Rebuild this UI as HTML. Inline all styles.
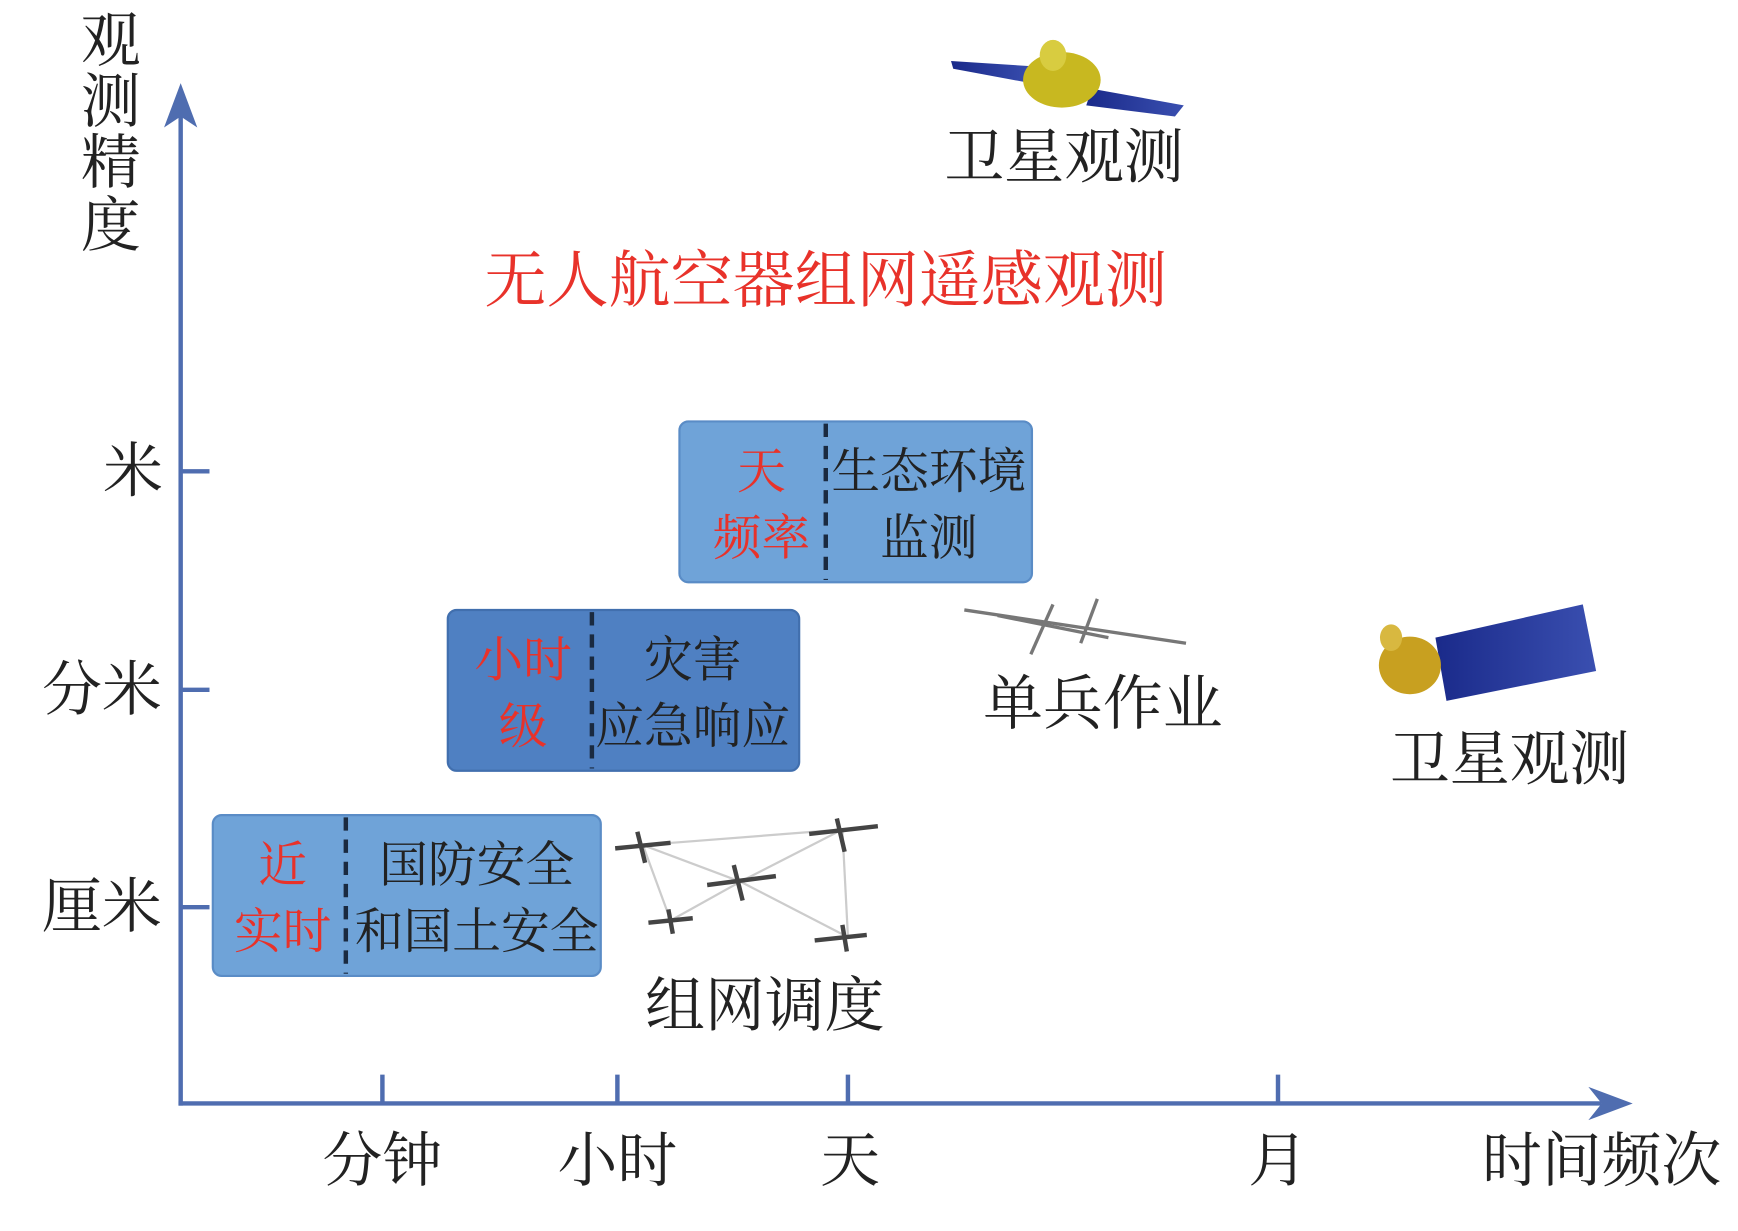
<!DOCTYPE html>
<html><head><meta charset="utf-8"><style>
html,body{margin:0;padding:0;background:#fff;}
svg{display:block;}
text{font-family:"Liberation Serif","Noto Serif CJK SC",serif;}
</style></head><body>
<svg width="1738" height="1231" viewBox="0 0 1568 1110" preserveAspectRatio="none" xmlns="http://www.w3.org/2000/svg">
<defs>
<linearGradient id="sp" x1="0" x2="1"><stop offset="0" stop-color="#1a2a8a"/><stop offset="1" stop-color="#3a4fb0"/></linearGradient>
</defs>
<g stroke="#4f6db0" stroke-width="4" fill="none">
<line x1="163" y1="997" x2="163" y2="105"/>
<line x1="161" y1="995" x2="1445" y2="995"/>
<line x1="163" y1="425" x2="189" y2="425"/>
<line x1="163" y1="622" x2="189" y2="622"/>
<line x1="163" y1="818" x2="189" y2="818"/>
<line x1="345" y1="969" x2="345" y2="995"/>
<line x1="557" y1="969" x2="557" y2="995"/>
<line x1="765" y1="969" x2="765" y2="995"/>
<line x1="1153" y1="969" x2="1153" y2="995"/>
</g>
<polygon points="163,75 148,115 163,105 178,115" fill="#4f6db0"/>
<polygon points="1473,995 1433,980 1445,995 1433,1010" fill="#4f6db0"/>
<g font-size="54" fill="#222" text-anchor="middle">
<text x="100" y="55">观</text><text x="100" y="110">测</text><text x="100" y="165">精</text><text x="100" y="222">度</text>
<text x="120" y="443">米</text>
<text x="92" y="640">分米</text>
<text x="92" y="836">厘米</text>
<text x="345" y="1065">分钟</text>
<text x="557" y="1065">小时</text>
<text x="767" y="1065">天</text>
<text x="1153" y="1065">月</text>
<text x="1445" y="1065">时间频次</text>
<text x="960" y="160">卫星观测</text>
<text x="995" y="653">单兵作业</text>
<text x="1362" y="703">卫星观测</text>
<text x="690" y="925">组网调度</text>
</g>
<text x="745" y="272" font-size="56" fill="#e8322a" text-anchor="middle">无人航空器组网遥感观测</text>
<rect x="613" y="380" width="318" height="145" rx="8" fill="#6fa3d8" stroke="#5a8cc6" stroke-width="2"/>
<line x1="745" y1="382" x2="745" y2="523" stroke="#1a2a40" stroke-width="4" stroke-dasharray="12,8"/>
<rect x="404" y="550" width="317" height="145" rx="8" fill="#4f80c2" stroke="#416fae" stroke-width="2"/>
<line x1="534" y1="552" x2="534" y2="693" stroke="#1a2a40" stroke-width="4" stroke-dasharray="12,8"/>
<rect x="192" y="735" width="350" height="145" rx="8" fill="#6fa3d8" stroke="#5a8cc6" stroke-width="2"/>
<line x1="312" y1="737" x2="312" y2="878" stroke="#1a2a40" stroke-width="4" stroke-dasharray="12,8"/>
<g font-size="44" text-anchor="middle">
<text x="687" y="440" fill="#e8322a">天</text><text x="687" y="500" fill="#e8322a">频率</text>
<text x="838" y="440" fill="#222">生态环境</text><text x="838" y="500" fill="#222">监测</text>
<text x="472" y="610" fill="#e8322a">小时</text><text x="472" y="670" fill="#e8322a">级</text>
<text x="625" y="610" fill="#222">灾害</text><text x="625" y="670" fill="#222">应急响应</text>
<text x="255" y="795" fill="#e8322a">近</text><text x="255" y="855" fill="#e8322a">实时</text>
<text x="430" y="795" fill="#222">国防安全</text><text x="430" y="855" fill="#222">和国土安全</text>
</g>
<polygon points="858,55 935,60 930,75 860,62" fill="url(#sp)"/>
<polygon points="985,80 1068,95 1060,105 980,95" fill="url(#sp)"/>
<ellipse cx="958" cy="72" rx="35" ry="25" fill="#c8b820"/>
<ellipse cx="950" cy="50" rx="12" ry="14" fill="#d8cc40"/>
<polygon points="1295,575 1428,545 1440,605 1305,632" fill="url(#sp)"/>
<ellipse cx="1272" cy="600" rx="28" ry="26" fill="#c8a020"/>
<ellipse cx="1255" cy="575" rx="10" ry="12" fill="#d8b840"/>
<g stroke="#777" stroke-width="3" fill="none">
<line x1="870" y1="550" x2="1070" y2="580"/>
<line x1="900" y1="555" x2="1000" y2="575"/>
<line x1="950" y1="545" x2="930" y2="590"/>
<line x1="990" y1="540" x2="975" y2="580"/>
</g>
<g stroke="#ccc" stroke-width="2" fill="none">
<line x1="580" y1="762" x2="760" y2="748"/><line x1="760" y1="748" x2="765" y2="845"/>
<line x1="580" y1="762" x2="605" y2="830"/><line x1="605" y1="830" x2="668" y2="795"/>
<line x1="668" y1="795" x2="760" y2="748"/><line x1="668" y1="795" x2="765" y2="845"/>
<line x1="580" y1="762" x2="668" y2="795"/>
</g>
<g stroke="#444" stroke-width="4">
<line x1="555" y1="765" x2="605" y2="760"/><line x1="575" y1="750" x2="582" y2="778"/>
<line x1="730" y1="752" x2="792" y2="745"/><line x1="755" y1="738" x2="762" y2="768"/>
<line x1="638" y1="798" x2="700" y2="790"/><line x1="662" y1="780" x2="670" y2="812"/>
<line x1="585" y1="832" x2="625" y2="828"/><line x1="603" y1="820" x2="607" y2="842"/>
<line x1="735" y1="848" x2="782" y2="843"/><line x1="760" y1="834" x2="764" y2="858"/>
</g>
</svg>
</body></html>
